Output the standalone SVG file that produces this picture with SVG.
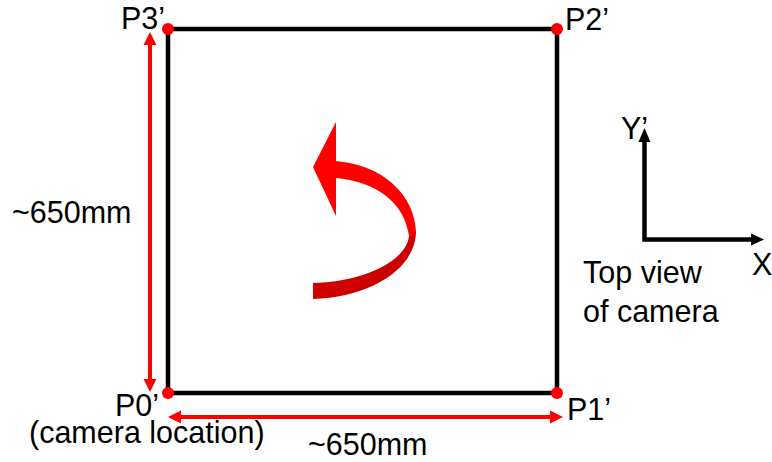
<svg xmlns="http://www.w3.org/2000/svg" width="772" height="462" viewBox="0 0 772 462">
  <defs>
    <linearGradient id="twist" x1="0" y1="0" x2="1" y2="1">
      <stop offset="0" stop-color="#E00000"/>
      <stop offset="1" stop-color="#C00000"/>
    </linearGradient>
  </defs>
  <style>
    text { font-family: "Liberation Sans", Arial, sans-serif; font-size: 30.5px; fill: #000; }
    .edge { stroke: #000; stroke-width: 4.5; fill: none; stroke-linecap: square; }
    .dim { stroke: #FF0000; stroke-width: 4; fill: none; }
    .dimhead { fill: #FF0000; }
    .axis { stroke: #000; stroke-width: 4.5; fill: none; }
    .axishead { fill: #000; }
    .corner { fill: #FF0000; }
  </style>
  <rect width="772" height="462" fill="#fff"/>

  <g id="connectors">
    <line class="edge" x1="168" y1="29" x2="557" y2="29"/>
    <line class="edge" x1="557" y1="29" x2="557" y2="393"/>
    <line class="edge" x1="557" y1="393" x2="168" y2="393"/>
    <line class="edge" x1="168" y1="393" x2="168" y2="29"/>
    <line class="dim" x1="150" y1="42" x2="150" y2="382"/>
    <polygon class="dimhead" points="150,32 143.5,45 156.5,45"/>
    <polygon class="dimhead" points="150,392 143.5,379 156.5,379"/>
    <line class="dim" x1="178" y1="417" x2="553" y2="417"/>
    <polygon class="dimhead" points="168,417 181,410.5 181,423.5"/>
    <polygon class="dimhead" points="563,417 550,410.5 550,423.5"/>
    <polyline class="axis" points="644.5,140 644.5,239.5 754,239.5"/>
    <polygon class="axishead" points="644.5,128 638.5,142 650.5,142"/>
    <polygon class="axishead" points="764,239.5 751,233.5 751,245.5"/>
  </g>

  <g id="rotation-arrow">
    <path fill="url(#twist)" d="M416,231 C416,268 372,297 313,299 L313,283 C362,282 406,262 409,236 Z"/>
    <path fill="#FF0000" d="M335,161 C382,164 415,195 416,232 L409,236 C405,203 376,181 335,178 Z"/>
    <polygon fill="#FF0000" points="313,167 336,122 336,216"/>
  </g>

  <g id="P0">
    <circle class="corner" cx="168" cy="393" r="6"/>
    <text x="115" y="416">P0’</text>
    <text x="29" y="443">(camera location)</text>
  </g>
  <g id="P1">
    <circle class="corner" cx="557" cy="393" r="6"/>
    <text x="567" y="420">P1’</text>
  </g>
  <g id="P2">
    <circle class="corner" cx="557" cy="29" r="6"/>
    <text x="565" y="30">P2’</text>
  </g>
  <g id="P3">
    <circle class="corner" cx="168" cy="29" r="6"/>
    <text x="121" y="29">P3’</text>
  </g>

  <g id="dim-labels">
    <text x="12" y="223">~650mm</text>
    <text x="308" y="455">~650mm</text>
  </g>

  <g id="axes-labels">
    <text x="621" y="139">Y’</text>
    <text x="752" y="275">X’</text>
    <text x="583" y="283">Top view</text>
    <text x="583" y="322">of camera</text>
  </g>
</svg>
